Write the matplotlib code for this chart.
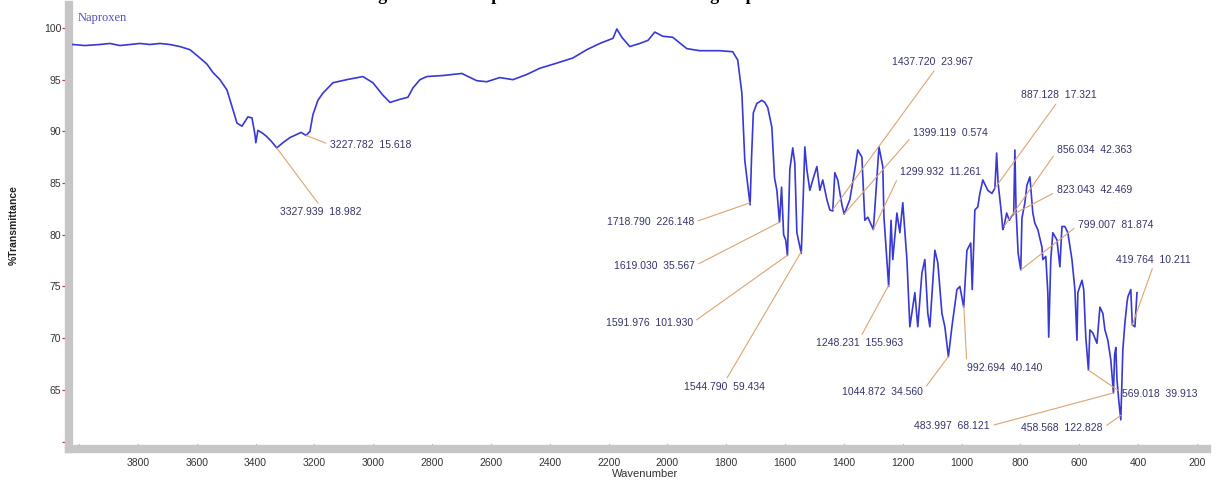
import numpy as np
import matplotlib.pyplot as plt

plt.rcParams['font.family'] = ['Liberation Sans', 'DejaVu Sans']

# FTIR trace of naproxen: wavenumber (cm-1) and %T
wavenumber = [
    4021, 3980, 3929, 3895, 3861, 3827, 3793, 3759, 3725, 3691, 3657, 3623,
    3589, 3565, 3545, 3521, 3497, 3477, 3463, 3446, 3426, 3412, 3402, 3399,
    3392, 3375, 3362, 3345, 3328, 3307, 3283, 3260, 3245, 3228, 3215, 3205,
    3188, 3171, 3137, 3090, 3035, 3001, 2967, 2943, 2909, 2882, 2865, 2841,
    2818, 2763, 2699, 2648, 2614, 2570, 2525, 2478, 2434, 2376, 2321, 2274,
    2230, 2185, 2172, 2155, 2128, 2094, 2066, 2043, 2016, 1982, 1934, 1890,
    1822, 1778, 1761, 1747, 1737, 1719, 1714, 1708, 1696, 1679, 1669, 1659,
    1645, 1636, 1628, 1619, 1612, 1605, 1598, 1592, 1584, 1574, 1567, 1560,
    1545, 1538, 1533, 1526, 1516, 1506, 1492, 1482, 1472, 1458, 1448, 1438,
    1431, 1421, 1407, 1399, 1380, 1363, 1353, 1339, 1329, 1319, 1300, 1292,
    1281, 1268, 1264, 1254, 1248, 1240, 1234, 1220, 1210, 1200, 1186, 1176,
    1159, 1149, 1135, 1125, 1115, 1108, 1091, 1081, 1067, 1057, 1045, 1033,
    1016, 1006, 993, 982, 969, 964, 955, 945, 938, 928, 911, 897,
    887, 881, 876, 866, 860, 856, 847, 838, 830, 823, 819, 815,
    808, 799, 795, 785, 778, 768, 758, 751, 741, 727, 724, 714,
    707, 704, 697, 690, 676, 666, 659, 649, 639, 625, 615, 608,
    605, 591, 585, 578, 569, 564, 554, 540, 530, 520, 513, 503,
    493, 484, 480, 476, 472, 466, 459, 455, 452, 445, 438, 435,
    425, 420, 411, 404,
]
transmittance = [
    98.4, 98.3, 98.4, 98.5, 98.3, 98.4, 98.5, 98.4, 98.5, 98.4, 98.2, 97.9,
    97.1, 96.5, 95.7, 95.0, 94.0, 92.1, 90.8, 90.5, 91.4, 91.3, 89.7, 88.9,
    90.1, 89.8, 89.5, 89.0, 88.4, 88.9, 89.4, 89.7, 89.9, 89.6, 90.0, 91.6,
    93.0, 93.7, 94.7, 95.0, 95.3, 94.7, 93.5, 92.8, 93.1, 93.3, 94.2, 95.0,
    95.3, 95.4, 95.6, 94.9, 94.8, 95.2, 95.0, 95.5, 96.1, 96.6, 97.1, 97.9,
    98.5, 99.0, 99.9, 99.1, 98.2, 98.5, 98.8, 99.6, 99.2, 99.1, 98.0, 97.8,
    97.8, 97.7, 96.9, 93.7, 87.2, 82.9, 87.5, 91.8, 92.7, 93.0, 92.8, 92.3,
    90.4, 85.5, 84.3, 81.2, 84.6, 80.0, 79.5, 78.0, 86.3, 88.4, 86.9, 80.2,
    78.2, 84.0, 88.5, 86.3, 84.3, 85.3, 86.6, 84.3, 85.3, 83.4, 82.4, 82.3,
    86.0, 85.3, 82.9, 82.0, 83.4, 86.3, 88.2, 87.5, 81.4, 81.7, 80.5, 83.8,
    88.5, 86.6, 81.7, 77.6, 75.0, 81.4, 77.6, 82.1, 80.2, 83.1, 77.6, 71.1,
    74.4, 71.1, 76.3, 77.6, 72.4, 71.1, 78.5, 77.3, 72.4, 71.1, 68.2, 71.1,
    74.7, 75.0, 73.0, 78.5, 79.2, 74.7, 82.4, 82.7, 84.0, 85.3, 84.3, 84.0,
    84.5, 87.9, 85.0, 82.4, 80.5, 80.8, 82.1, 81.4, 81.8, 82.0, 88.2, 82.4,
    78.2, 76.6, 81.6, 83.1, 84.8, 85.6, 82.1, 81.1, 80.5, 78.8, 77.6, 77.9,
    74.4, 70.1, 77.6, 80.2, 79.5, 76.9, 80.8, 80.8, 80.2, 77.6, 74.7, 69.8,
    74.4, 75.6, 74.7, 70.1, 66.9, 70.8, 70.5, 69.5, 73.0, 72.4, 70.8, 69.8,
    67.9, 64.7, 68.4, 69.1, 66.0, 64.0, 62.1, 66.2, 68.9, 71.5, 73.4, 74.0,
    74.7, 71.3, 71.1, 74.4,
]

# picked peaks: position and intensity as printed by the instrument software
peak_wn = [3327.939, 3227.782, 1718.790, 1619.030, 1591.976, 1544.790,
           1437.720, 1399.119, 1299.932, 1248.231, 1044.872, 992.694,
           887.128, 856.034, 823.043, 799.007, 569.018, 483.997,
           458.568, 419.764]
peak_val = [18.982, 15.618, 226.148, 35.567, 101.930, 59.434,
            23.967, 0.574, 11.261, 155.963, 34.560, 40.140,
            17.321, 42.363, 42.469, 81.874, 39.913, 68.121,
            122.828, 10.211]

# where each peak label sits (x, y, alignment, leader start on the text box)
label_pos = [
    (3178, 82.2, 'center', (0.5, 1.0)),
    (3147, 88.7, 'left', (0.0, 0.5)),
    (1910, 81.2, 'right', (1.0, 0.5)),
    (1907, 77.0, 'right', (1.0, 0.5)),
    (1914, 71.5, 'right', (1.0, 0.5)),
    (1805, 65.3, 'center', (0.5, 1.0)),
    (1098, 96.7, 'center', (0.55, 0.0)),
    (1166, 89.8, 'left', (0.0, 0.3)),
    (1210, 86.1, 'left', (0.0, 0.3)),
    (1346, 69.5, 'center', (0.5, 1.0)),
    (1132, 64.8, 'right', (1.0, 0.6)),
    (982, 67.1, 'left', (0.0, 0.7)),
    (670, 93.5, 'center', (0.5, 0.0)),
    (676, 88.2, 'left', (0.0, 0.4)),
    (676, 84.3, 'left', (0.0, 0.4)),
    (605, 80.9, 'left', (0.0, 0.5)),
    (455, 64.6, 'left', (0.0, 0.6)),
    (904, 61.5, 'right', (1.0, 0.5)),
    (520, 61.3, 'right', (1.0, 0.5)),
    (347, 77.6, 'center', (0.5, 0.0)),
]

fig = plt.figure(figsize=(12.16, 4.87), dpi=100)
ax = fig.add_axes([69 / 1216, 38.5 / 487, 1138 / 1216, 443.5 / 487])

ax.plot(wavenumber, transmittance, color='#3838d4', lw=1.2, zorder=3)
ax.set_xlim(4034, 166)
ax.set_ylim(59.33, 102.22)

for side in ['top', 'right']:
    ax.spines[side].set_visible(False)
for side in ['left', 'bottom']:
    ax.spines[side].set_linewidth(6)
    ax.spines[side].set_color('#c6c6c6')

xt = np.arange(4000, 199, -200)
ax.set_xticks(xt)
ax.set_xticklabels(['' if v == 4000 else str(v) for v in xt])
ax.set_xticks(np.arange(4000, 199, -40), minor=True)
ax.tick_params(axis='x', which='major', direction='in', length=3.5, width=0.8,
               color='#a04848', pad=6.5, labelsize=7.5, labelcolor='#333333')
ax.tick_params(axis='x', which='minor', direction='in', length=2, width=0.7,
               color='#a04848')

yt = np.arange(60, 101, 5)
ax.set_yticks(yt)
ax.set_yticklabels(['' if v == 60 else str(v) for v in yt])
ax.tick_params(axis='y', direction='out', length=5, width=0.9,
               color='#c03838', pad=0.5, labelsize=7.5, labelcolor='#333333')

# leader lines from each labelled peak
wn_asc = np.array(wavenumber)[::-1]
t_asc = np.array(transmittance)[::-1]
for wn, val, (tx, ty, ha, rel) in zip(peak_wn, peak_val, label_pos):
    yc = np.interp(wn, wn_asc, t_asc)
    ax.annotate(f'{wn:.3f}  {val:.3f}', xy=(wn, yc), xytext=(tx, ty),
                ha=ha, va='center', fontsize=7.5, color='#34346a',
                annotation_clip=False,
                arrowprops=dict(arrowstyle='-', color='#dba474', lw=0.8,
                                relpos=rel, shrinkA=1, shrinkB=0))

ax.text(4004, 101.0, 'Naproxen', color='#5050c0', fontsize=9,
        family='Liberation Serif', ha='left', va='center')

fig.text(14 / 1216, 1 - 225 / 487, '%Transmittance', rotation=90,
         ha='center', va='center', fontsize=7.5, fontweight='bold',
         color='#222222')
fig.text(645 / 1216, 1 - 474 / 487, 'Wavenumber', ha='center', va='center',
         fontsize=8, color='#333333')

# caption sits above the frame, only its descenders show
fig.text(362 / 1216, 1.0, 'Figure 4: FTIR spectrum of the standard drug Naproxen',
         ha='left', va='baseline', fontsize=13, fontweight='bold',
         family='Liberation Serif', color='black')

fig.savefig('out.png', dpi=100)
